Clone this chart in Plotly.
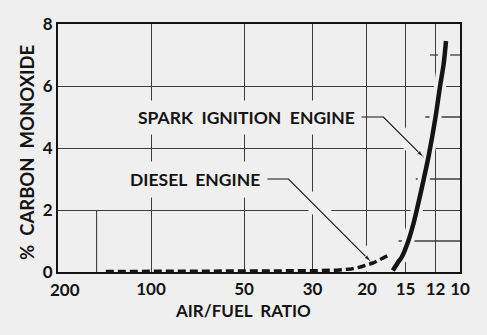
import numpy as np
import plotly.graph_objects as go

# Air/fuel ratio ticks and curve data (x: air/fuel ratio, y: % CO)
x_ticks = [200, 100, 50, 30, 20, 15, 12, 10]
y_ticks = [0, 2, 4, 6, 8]

spark_afr = [16.5, 15.9, 15.4, 14.7, 14.2, 13.8, 13.1, 12.6, 12.0, 11.6, 11.3, 11.1]
spark_co = [0.05, 0.3, 0.5, 1.0, 1.5, 2.0, 3.0, 3.8, 5.0, 6.0, 6.7, 7.45]

diesel_afr = [140, 100, 60, 40, 30, 25, 22.5, 21, 20, 19, 18, 17.2]
diesel_co = [0.015, 0.015, 0.02, 0.03, 0.04, 0.06, 0.1, 0.16, 0.22, 0.3, 0.42, 0.52]

# Leader lines: label end -> elbow -> arrow tip
spark_leader_x = [21.0, 17.7, 13.1]
spark_leader_y = [5.0, 5.0, 3.7]
diesel_leader_x = [43.0, 35.9, 19.4]
diesel_leader_y = [3.0, 3.0, 0.33]

# Short partial grid lines
minor_h_y = [1, 3, 5, 7]
minor_h_start = [15.8, 13.9, 12.95, 12.5]
minor_v_x = 150

BG = "#efefef"
INK = "#141414"
GRID = "#3c3c3c"
FONT = "Lato"

fig = go.Figure()

# partial grid segments
for yv, xs in zip(minor_h_y, minor_h_start):
    fig.add_trace(go.Scatter(x=[xs, 10], y=[yv, yv], mode="lines",
                             line=dict(color=GRID, width=1.3),
                             hoverinfo="skip", showlegend=False))
fig.add_trace(go.Scatter(x=[minor_v_x, minor_v_x], y=[0, 2], mode="lines",
                         line=dict(color=GRID, width=1.1),
                         hoverinfo="skip", showlegend=False))

# background halos that break the grid where lines cross it
for xs, ys, w in [(spark_leader_x[1:], spark_leader_y[1:], 16),
                  (diesel_leader_x[1:], diesel_leader_y[1:], 16),
                  (spark_afr, spark_co, 12),
                  (diesel_afr[5:], diesel_co[5:], 12)]:
    fig.add_trace(go.Scatter(x=xs, y=ys, mode="lines",
                             line=dict(color=BG, width=w),
                             hoverinfo="skip", showlegend=False))

# leader lines with arrowheads
for xs, ys in [(spark_leader_x, spark_leader_y), (diesel_leader_x, diesel_leader_y)]:
    fig.add_trace(go.Scatter(x=xs, y=ys, mode="lines+markers",
                             line=dict(color=INK, width=1.1),
                             marker=dict(symbol="arrow", angleref="previous",
                                         size=[0, 0, 8], color=INK),
                             hoverinfo="skip", showlegend=False))

# engine curves
fig.add_trace(go.Scatter(x=diesel_afr, y=diesel_co, mode="lines",
                         line=dict(color=INK, width=3.5, dash="8px,4px"),
                         name="Diesel engine", showlegend=False))
fig.add_trace(go.Scatter(x=spark_afr, y=spark_co, mode="lines",
                         line=dict(color=INK, width=4.5, shape="spline"),
                         name="Spark ignition engine", showlegend=False))

label_font = dict(family=FONT, size=17.5, color=INK, weight="bold")
fig.add_annotation(x=np.log10(49), y=5.0, xref="x", yref="y",
                   text="SPARK\u00a0 IGNITION\u00a0 ENGINE", showarrow=False,
                   font=label_font, bgcolor=BG, borderpad=6)
fig.add_annotation(x=np.log10(72), y=3.0, xref="x", yref="y",
                   text="DIESEL\u00a0 ENGINE", showarrow=False,
                   font=label_font, bgcolor=BG, borderpad=7)

fig.add_annotation(x=0.46, y=-0.157, xref="paper", yref="paper",
                   xanchor="center", yanchor="middle",
                   text="AIR/FUEL\u00a0 RATIO", showarrow=False,
                   font=dict(family=FONT, size=17, color=INK, weight="bold"))
fig.add_annotation(x=-0.077, y=0.48, xref="paper", yref="paper",
                   xanchor="center", yanchor="middle",
                   text="%\u00a0 CARBON\u00a0 MONOXIDE", showarrow=False,
                   textangle=-90,
                   font=dict(family=FONT, size=18.5, color=INK, weight="bold"))

tick_font = dict(family=FONT, size=17, color=INK, weight="bold")

# the corner label "200" sits slightly inside the frame, clear of the y "0"
fig.add_annotation(x=0.018, y=-0.072, xref="paper", yref="paper",
                   xanchor="center", yanchor="middle",
                   text=str(x_ticks[0]), showarrow=False, font=tick_font)

fig.update_xaxes(type="log", range=[np.log10(200), 1], autorange=False,
                 tickvals=x_ticks,
                 ticktext=[""] + [str(v) for v in x_ticks[1:]],
                 tickfont=tick_font, ticks="", showgrid=True,
                 gridcolor=GRID, gridwidth=1.3,
                 showline=True, linecolor=INK, linewidth=2.2, mirror=True,
                 zeroline=False)
fig.update_yaxes(range=[0, 8], tickvals=y_ticks, tickfont=tick_font, ticks="",
                 showgrid=True, gridcolor=GRID, gridwidth=1.3,
                 showline=True, linecolor=INK, linewidth=2.2, mirror=True,
                 zeroline=False)

fig.update_layout(width=487, height=335,
                  margin=dict(l=58, r=27, t=24, b=63),
                  paper_bgcolor=BG, plot_bgcolor=BG,
                  showlegend=False)

fig.write_html("out.html")
